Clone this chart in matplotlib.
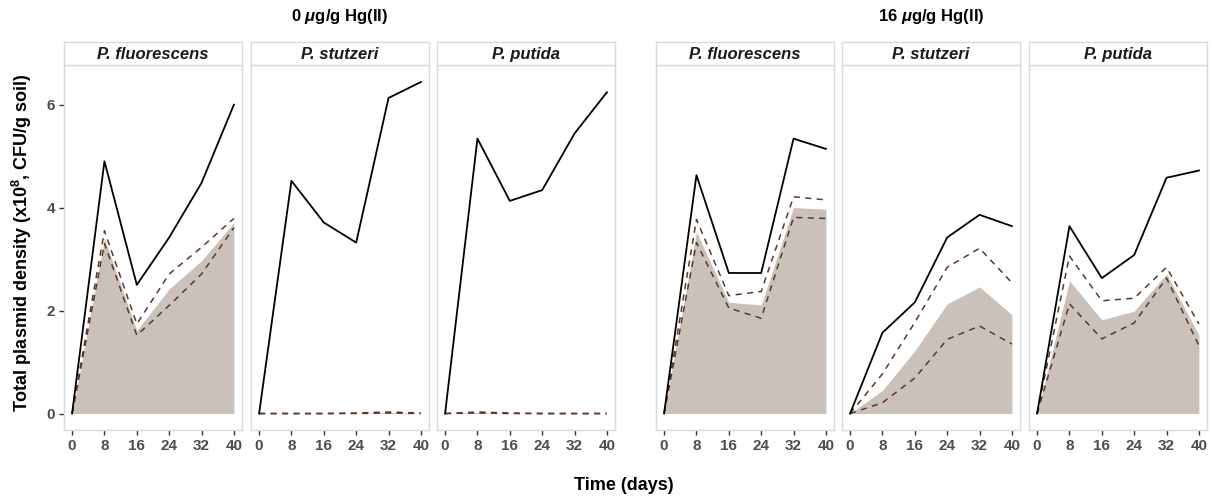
import matplotlib
matplotlib.use("Agg")
import matplotlib.pyplot as plt

plt.rcParams['font.family'] = ['Liberation Sans', 'DejaVu Sans']
plt.rcParams['mathtext.fontset'] = 'custom'
plt.rcParams['mathtext.rm'] = 'Liberation Sans'
plt.rcParams['mathtext.it'] = 'Liberation Sans:italic:bold'
plt.rcParams['mathtext.bf'] = 'Liberation Sans:bold'

days = [0, 8, 16, 24, 32, 40]
species = ["P. fluorescens", "P. stutzeri", "P. putida"]
groups = ["0 $\\mu$g/g Hg(II)", "16 $\\mu$g/g Hg(II)"]

# 0 ug/g Hg(II)
total_0 = [[0, 4.90, 2.50, 3.42, 4.48, 6.00],
           [0, 4.52, 3.71, 3.32, 6.13, 6.44],
           [0, 5.34, 4.13, 4.34, 5.44, 6.24]]
upper_0 = [[0, 3.55, 1.74, 2.71, 3.23, 3.79],
           [0, 0.00, 0.00, 0.01, 0.03, 0.01],
           [0, 0.03, 0.01, 0.00, 0.00, 0.00]]
mean_0 = [[0, 3.40, 1.61, 2.42, 2.97, 3.71],
          [0, 0.00, 0.00, 0.00, 0.02, 0.00],
          [0, 0.02, 0.00, 0.00, 0.00, 0.00]]
lower_0 = [[0, 3.30, 1.52, 2.10, 2.71, 3.61],
           [0, 0.00, 0.00, 0.00, 0.01, 0.00],
           [0, 0.01, 0.00, 0.00, 0.00, 0.00]]

# 16 ug/g Hg(II)
total_16 = [[0, 4.63, 2.73, 2.73, 5.34, 5.14],
            [0, 1.57, 2.16, 3.42, 3.86, 3.64],
            [0, 3.64, 2.63, 3.08, 4.58, 4.72]]
upper_16 = [[0, 3.77, 2.29, 2.37, 4.21, 4.15],
            [0, 0.77, 1.77, 2.84, 3.21, 2.54],
            [0, 3.06, 2.19, 2.24, 2.84, 1.74]]
mean_16 = [[0, 3.53, 2.16, 2.11, 4.00, 3.97],
           [0, 0.45, 1.22, 2.13, 2.46, 1.92],
           [0, 2.58, 1.82, 1.99, 2.71, 1.52]]
lower_16 = [[0, 3.32, 2.05, 1.85, 3.81, 3.79],
            [0, 0.21, 0.69, 1.44, 1.70, 1.35],
            [0, 2.13, 1.45, 1.76, 2.63, 1.32]]

W, H = 1213, 499
fig = plt.figure(figsize=(W / 100, H / 100), dpi=100)

panel_left = [64, 251, 437, 656, 842, 1029]
panel_w = 178
top_px, bottom_px, strip_top = 65, 430, 42

fill_col = "#cbc1bb"
dash_col = "#5c3828"
border = "#d9d9d9"

data = [(total_0, upper_0, mean_0, lower_0), (total_16, upper_16, mean_16, lower_16)]

for g in range(2):
    tot, up, mn, lo = data[g]
    for s in range(3):
        k = g * 3 + s
        x0 = panel_left[k] / W
        ax = fig.add_axes([x0, 1 - bottom_px / H, panel_w / W, (bottom_px - top_px) / H])
        ax.fill_between(days, 0, mn[s], color=fill_col, linewidth=0)
        ax.plot(days, up[s], color=dash_col, lw=1.1, dashes=(4, 3.5))
        ax.plot(days, lo[s], color=dash_col, lw=1.1, dashes=(4, 3.5))
        ax.plot(days, tot[s], color="black", lw=1.3)
        ax.set_xlim(-2, 42)
        ax.set_ylim(-0.32, 6.77)
        ax.set_xticks(days)
        ax.set_yticks([0, 2, 4, 6])
        for sp in ax.spines.values():
            sp.set_color(border)
            sp.set_linewidth(1.0)
        ax.tick_params(colors="#333333", labelcolor="#4d4d4d", length=3.5, width=1.0,
                       labelsize=11, pad=3)
        for lab in ax.get_xticklabels() + ax.get_yticklabels():
            lab.set_fontweight("bold")
        if k != 0:
            ax.tick_params(axis="y", left=False, labelleft=False)

        # strip
        sax = fig.add_axes([x0, 1 - top_px / H, panel_w / W, (top_px - strip_top) / H])
        sax.set_xticks([])
        sax.set_yticks([])
        for sp in sax.spines.values():
            sp.set_color(border)
            sp.set_linewidth(1.0)
        sax.text(0.5, 0.45, species[s], ha="center", va="center", fontsize=12,
                 fontweight="bold", fontstyle="italic", color="#1a1a1a",
                 transform=sax.transAxes)

    cx = (panel_left[g * 3] + panel_left[g * 3 + 2] + panel_w) / 2 / W
    fig.text(cx, 1 - 17 / H, groups[g], ha="center", va="center", fontsize=12,
             fontweight="bold")

fig.text(22 / W, 1 - 243 / H, "Total plasmid density (x10$^{\\mathbf{8}}$, CFU/g soil)",
         rotation=90, ha="center", va="center", fontsize=13, fontweight="bold")
fig.text(624 / W, 1 - 485 / H, "Time (days)", ha="center", va="center", fontsize=13,
         fontweight="bold")

fig.savefig("out.png", dpi=100)
